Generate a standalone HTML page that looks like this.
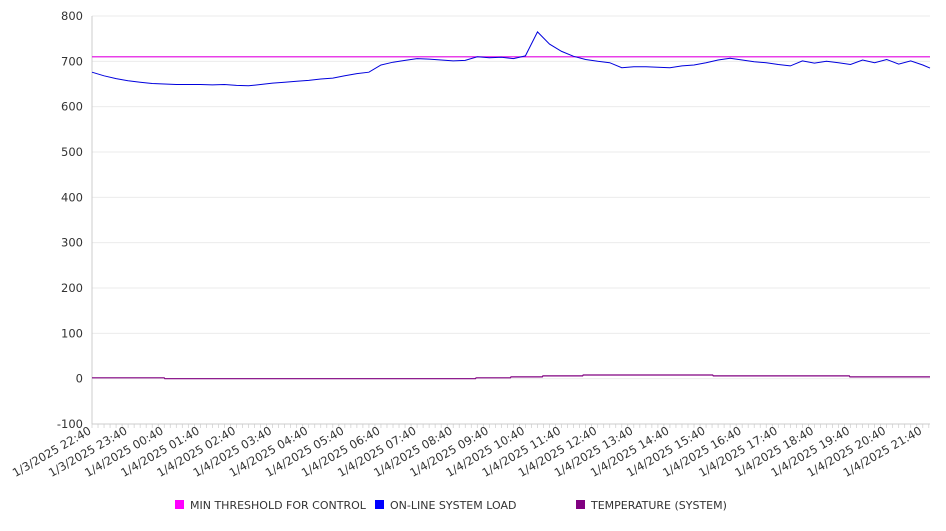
<!DOCTYPE html>
<html><head><meta charset="utf-8"><style>
body{margin:0;background:#fff;font-family:"Liberation Sans","DejaVu Sans",sans-serif}
svg text{font-family:"DejaVu Sans","Liberation Sans",sans-serif}
</style></head><body>
<svg id="chart" width="946" height="526" xmlns="http://www.w3.org/2000/svg">
<g id="grid"></g><g id="axes"></g><g id="series"></g><g id="legend"></g>
</svg>
<script>
const yTicks=[800,700,600,500,400,300,200,100,0,-100];
const xLabels=["1/3/2025 22:40","1/3/2025 23:40","1/4/2025 00:40","1/4/2025 01:40","1/4/2025 02:40","1/4/2025 03:40","1/4/2025 04:40","1/4/2025 05:40","1/4/2025 06:40","1/4/2025 07:40","1/4/2025 08:40","1/4/2025 09:40","1/4/2025 10:40","1/4/2025 11:40","1/4/2025 12:40","1/4/2025 13:40","1/4/2025 14:40","1/4/2025 15:40","1/4/2025 16:40","1/4/2025 17:40","1/4/2025 18:40","1/4/2025 19:40","1/4/2025 20:40","1/4/2025 21:40"];
const loadMinutes=[0,20,40,60,80,100,120,140,160,180,200,220,240,260,280,300,320,340,360,380,400,420,440,460,480,500,520,540,560,580,600,620,640,660,680,700,720,740,760,780,800,820,840,860,880,900,920,940,960,980,1000,1020,1040,1060,1080,1100,1120,1140,1160,1180,1200,1220,1240,1260,1280,1300,1320,1340,1360,1380,1392];
const loadValues=[676,668,662,657,654,651,650,649,649,649,648,649,647,646,649,652,654,656,658,661,663,668,673,676,692,698,702,706,705,703,701,702,710,708,709,706,712,765,738,722,711,704,700,697,686,688,688,687,686,690,692,697,703,707,703,699,697,693,690,701,696,700,697,693,703,697,704,694,701,692,685];
const tempMinutes=[0,120,121,637,638,695,696,748,749,815,816,1031,1032,1258,1259,1392];
const tempValues=[2,2,0,0,2,2,4,4,6,6,8,8,6,6,4,4];
const threshold=[710,710];
const thresholdMinutes=[0,1392];
const X0=92,X1=930,Y0=16,Y1=424,TMAX=1392,VMAX=800,VMIN=-100;
const xs=t=>X0+t*(X1-X0)/TMAX;
const ys=v=>Y0+(VMAX-v)*(Y1-Y0)/(VMAX-VMIN);
const NS="http://www.w3.org/2000/svg";
function mk(tag,attrs,parent){const e=document.createElementNS(NS,tag);for(const k in attrs)e.setAttribute(k,attrs[k]);parent.appendChild(e);return e;}
const grid=document.getElementById('grid'),axes=document.getElementById('axes'),series=document.getElementById('series'),legend=document.getElementById('legend');
yTicks.forEach(v=>{
 const l=mk('line',{x1:X0,x2:X1,y1:ys(v),y2:ys(v),stroke:'#ebebeb','stroke-width':1},grid);
 
 
 const t=mk('text',{x:83,y:ys(v)+4,'text-anchor':'end','font-size':11.5,fill:'#333'},axes);
 t.textContent=v;
 
 
});
const ya=mk('line',{x1:X0,x2:X0,y1:Y0,y2:Y1,stroke:'#ccc'},axes);


const xa=mk('line',{x1:X0,x2:X1,y1:Y1,y2:Y1,stroke:'#ccc'},axes);


for(let t=0;t<=TMAX;t+=10){
 const m=mk('line',{x1:xs(t),x2:xs(t),y1:Y1,y2:Y1+4,stroke:'#ccc','stroke-width':0.7},axes);
 
 
}
xLabels.forEach((s,i)=>{
 const x=xs(i*60);
 const t=mk('text',{x:x,y:Y1+9,'text-anchor':'end','font-size':11.5,fill:'#333',transform:`rotate(-30 ${x} ${Y1+9})`},axes);
 t.textContent=s;
 
 
});
function line(tArr,vArr,color,name,w){
 const d=tArr.map((t,i)=>(i?'L':'M')+xs(t).toFixed(1)+' '+ys(vArr[i]).toFixed(1)).join(' ');
 const p=mk('path',{d:d,fill:'none',stroke:color,'stroke-width':w},series);
 
 
}
line(thresholdMinutes,threshold,'#e000e0','min-threshold-line',1.2);
line(loadMinutes,loadValues,'#0000dd','online-system-load-line',1);
line(tempMinutes,tempValues,'#800080','temperature-line',1.2);
const items=[["MIN THRESHOLD FOR CONTROL","#ff00ff",175],["ON-LINE SYSTEM LOAD","#0000ff",375],["TEMPERATURE (SYSTEM)","#800080",576]];
items.forEach(([label,c,x])=>{
 const g=mk('g',{},legend);
 
 
 mk('rect',{x:x,y:500,width:9,height:9,fill:c},g);
 const t=mk('text',{x:x+15,y:509,'font-size':11,fill:'#333'},g);
 t.textContent=label;
});
</script>
</body></html>
